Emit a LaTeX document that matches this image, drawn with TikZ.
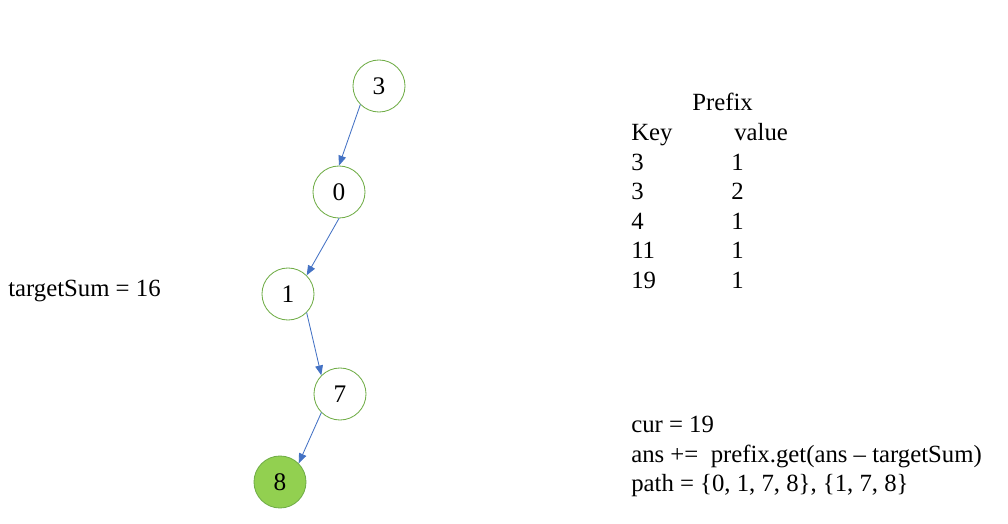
\documentclass[tikz,border=0pt]{standalone}
\usepackage{fontspec}
\setmainfont{Liberation Serif}
\usetikzlibrary{arrows.meta, positioning}
\definecolor{nodegreen}{HTML}{70AD47}
\definecolor{hitgreen}{HTML}{92D050}
\definecolor{edgeblue}{HTML}{4472C4}
\tikzset{
  >={Triangle[length=7pt, width=5.5pt]},
  every picture/.style={line cap=round, line join=round},
  treenode/.style={circle, draw=nodegreen, line width=0.6pt, fill=white, minimum size=1.3cm, inner sep=0pt, font=\fontsize{18}{21}\selectfont},
  hitnode/.style={treenode, fill=hitgreen},
  treeedge/.style={->, edgeblue, line width=0.6pt},
  note/.style={anchor=base west, inner sep=0pt, font=\fontsize{17.6}{21}\selectfont},
}

\begin{document}
\begin{tikzpicture}[x=0.025cm, y=-0.025cm]
  \useasboundingbox (0,0) rectangle (1008,524);
  % ---- path through the tree
  \node[treenode] (n3) at (379,86) {3};
  \node[treenode] (n0) at (339,192) {0};
  \node[treenode] (n1) at (288,294) {1};
  \node[treenode] (n7) at (340,394) {7};
  \node[hitnode] (n8) at (280,482) {8};
  \draw[treeedge] (n3.225) -- (n0.north);
  \draw[treeedge] (n0.south) -- (n1.45);
  \draw[treeedge] (n1.315) -- (n7.135);
  \draw[treeedge] (n7.225) -- (n8.45);
  % ---- target
  \node[note] (target) at (8,297) {targetSum = 16};
  % ---- prefix table
  \node[note] (prefix) at (692,111) {Prefix};
  \node[note] (keyhead) at (631,141) {Key};
  \node[note] (valhead) at (734,141) {value};
  \foreach \k/\v [count=\i] in {3/1, 3/2, 4/1, 11/1, 19/1} {
    \node[note] (key\i) at (631,141+29.5*\i) {\k};
    \node[note] (val\i) at (731,141+29.5*\i) {\v};
  }
  % ---- current state
  \node[note] (cur) at (631,433) {cur = 19};
  \node[note] (ans) at (631,463) {ans +=\ \ prefix.get(ans – targetSum)};
  \node[note] (path) at (631,492) {path = \{0, 1, 7, 8\}, \{1, 7, 8\}};
\end{tikzpicture}
\end{document}
